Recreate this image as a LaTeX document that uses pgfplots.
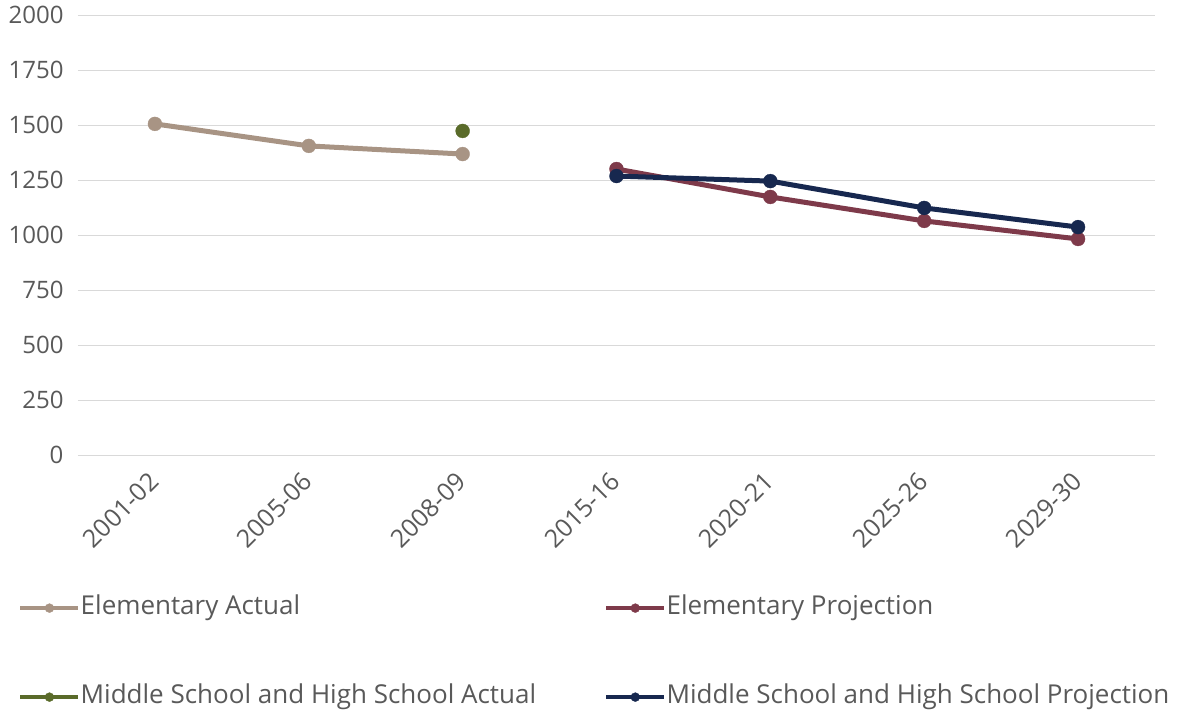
\documentclass[border=0pt]{standalone}
\usepackage{fontspec}
\setmainfont{Open Sans}
\usepackage{pgfplots}
\pgfplotsset{compat=1.18}
\definecolor{txt}{HTML}{595959}
\definecolor{gridc}{HTML}{D9D9D9}
\definecolor{ea}{HTML}{A89484}
\definecolor{ma}{HTML}{5A6B2A}
\definecolor{ep}{HTML}{7E3A4A}
\definecolor{mp}{HTML}{17284F}
\begin{document}
\begin{tikzpicture}
\useasboundingbox (-78pt,-255pt) rectangle (1105pt,455pt);
\begin{axis}[
  scale only axis, width=1077pt, height=440pt,
  xmin=-0.5, xmax=6.5, ymin=0, ymax=2000,
  xtick={0,...,6},
  xticklabels={2001-02,2005-06,2008-09,2015-16,2020-21,2025-26,2029-30},
  ytick={0,250,...,2000},
  ymajorgrids, grid style={gridc, line width=0.8pt},
  axis line style={draw=none}, major tick length=0pt,
  /pgf/number format/assume math mode=true,
  /pgf/number format/1000 sep={},
  tick label style={font=\fontsize{24}{27}\selectfont, text=txt},
  yticklabel style={anchor=east, xshift=-11pt},
  xticklabel style={font=\fontsize{25}{28}\selectfont, rotate=45, anchor=east, xshift=-13pt, yshift=-15pt},
  legend columns=2,
  legend cell align=left,
  legend style={draw=none, fill=none, inner sep=0pt, at={(-0.0557,-0.318)}, anchor=north west,
    font=\fontsize{26}{29}\selectfont, text=txt,
    nodes={text height=19pt, text depth=6pt, inner ysep=0.5pt, inner xsep=0pt},
    row sep=63pt,
    /tikz/every even column/.append style={column sep=68pt}},
  legend image code/.code={\draw[#1, line width=4.5pt, mark size=4.5pt, mark repeat=2, mark phase=2] plot coordinates {(0pt,0pt) (29pt,0pt) (58pt,0pt)};},
]
\addplot[ea, line width=5pt, mark=*, mark size=7pt, mark options={solid, line width=0.3pt, fill=ea, draw=ea}] coordinates {(0,1505) (1,1405) (2,1368)};
\addlegendentry{Elementary Actual}
\addplot[ep, line width=5pt, mark=*, mark size=7pt, mark options={solid, line width=0.3pt, fill=ep, draw=ep}] coordinates {(3,1300) (4,1173) (5,1064) (6,982)};
\addlegendentry{Elementary Projection}
\addplot[ma, line width=5pt, mark=*, mark size=7pt, mark options={solid, line width=0.3pt, fill=ma, draw=ma}] coordinates {(2,1473)};
\addlegendentry{Middle School and High School Actual}
\addplot[mp, line width=5pt, mark=*, mark size=7pt, mark options={solid, line width=0.3pt, fill=mp, draw=mp}] coordinates {(3,1268) (4,1245) (5,1123) (6,1036)};
\addlegendentry{Middle School and High School Projection}
\end{axis}
\end{tikzpicture}
\end{document}
